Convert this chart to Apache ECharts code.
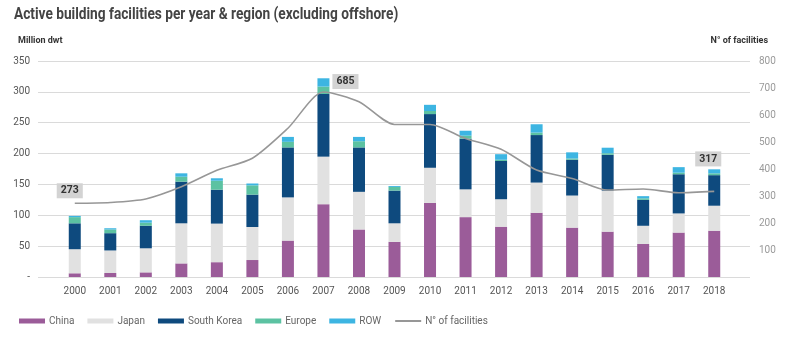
<!DOCTYPE html>
<html>
<head>
<meta charset="utf-8">
<script src="https://cdn.jsdelivr.net/npm/echarts@6/dist/echarts.min.js"></script>
<style>
  html, body { margin: 0; padding: 0; background: #fff; }
  #chart { width: 800px; height: 338px; }
</style>
</head>
<body>
<div id="chart"></div>
<script>
// Building capacity by region (million dwt) and number of active facilities
const years = ['2000','2001','2002','2003','2004','2005','2006','2007','2008','2009',
               '2010','2011','2012','2013','2014','2015','2016','2017','2018'];
const china      = [6, 6.5, 7.5, 22, 24, 27.5, 59, 118, 77, 57, 120, 97, 81.5, 104, 80, 73.5, 53.5, 72, 75];
const japan      = [39, 36.5, 39, 65, 62.5, 53.5, 70, 77, 61, 30, 57, 45, 44.5, 49, 52, 66.5, 29.5, 31, 40.5];
const southKorea = [42, 28, 36.5, 67.5, 55, 52.5, 81, 101.5, 72, 53, 87, 82, 62, 77, 58, 58, 42, 63.5, 49.5];
const europe     = [10, 6, 5, 8, 14.5, 15, 9, 12, 10, 6, 5, 5, 2, 4, 2, 2.5, 2.5, 2.5, 3];
const row        = [2, 2, 4, 5.5, 4, 3, 8, 13.5, 7, 1.5, 10, 8, 9, 13.5, 10, 9, 3.5, 9, 6.5];
const facilities = [273, 276, 289, 334, 395, 440, 551, 685, 649, 565, 565, 513, 473, 396, 365, 322, 326, 312, 317];
const dwtTicks   = [0, 50, 100, 150, 200, 250, 300, 350];
const countTicks = [0, 100, 200, 300, 400, 500, 600, 700, 800];

// Years that carry a value tag on the facilities line, with tag offsets
const tagged = { 0: [-5, 0], 7: [22, 2], 18: [-6, -20] };

const FONT = '"Roboto", "Noto Sans", sans-serif';
const TITLE = 'Active building facilities per year & region (excluding offshore)';

const dwtMin = dwtTicks[0], dwtMax = dwtTicks[dwtTicks.length - 1];
const cntMin = countTicks[0], cntMax = countTicks[countTicks.length - 1];

const barSeries = (name, values, color) => ({
  name, type: 'bar', stack: 'dwt', barWidth: 12,
  xAxisIndex: 0, yAxisIndex: 0,
  itemStyle: { color },
  emphasis: { disabled: true },
  data: values
});

const chart = echarts.init(document.getElementById('chart'), null, { renderer: 'canvas' });

chart.setOption({
  backgroundColor: '#ffffff',
  animation: false,
  textStyle: { fontFamily: FONT },
  // headline set in a slightly condensed cut
  graphic: [
    { type: 'text', x: 14, y: 7, scaleX: 0.855, silent: true,
      style: { text: TITLE, fontFamily: FONT, fontSize: 16, fontWeight: 'bold',
               fill: '#444', textVerticalAlign: 'top' } }
  ],
  title: [
    { text: 'Million dwt', left: 13, top: 31,
      textStyle: { fontFamily: FONT, fontSize: 9, fontWeight: 'bold', color: '#333' } },
    { text: 'N° of facilities', right: 27, top: 31,
      textStyle: { fontFamily: FONT, fontSize: 9, fontWeight: 'bold', color: '#333' } }
  ],
  legend: {
    left: 14, top: 311,
    itemWidth: 26, itemHeight: 5, itemGap: 13,
    textStyle: { fontFamily: FONT, fontSize: 10, color: '#666', padding: [0, 0, 0, -1] },
    data: [
      { name: 'China', icon: 'rect' },
      { name: 'Japan', icon: 'rect' },
      { name: 'South Korea', icon: 'rect' },
      { name: 'Europe', icon: 'rect' },
      { name: 'ROW', icon: 'rect' },
      { name: 'N° of facilities', itemStyle: { opacity: 0 } }
    ]
  },
  // grid 0 holds the marks, grid 1 carries the wider gridlines and tick labels
  grid: [
    { left: 57, right: 68, top: 61, bottom: 61 },
    { left: 38, right: 50, top: 61, bottom: 61 }
  ],
  xAxis: [
    { type: 'category', gridIndex: 0, data: years, boundaryGap: true,
      axisLine: { show: false }, axisTick: { show: false }, splitLine: { show: false },
      axisLabel: { fontFamily: FONT, fontSize: 10, color: '#555', margin: 9, interval: 0 } },
    { type: 'value', gridIndex: 1, show: false, min: 0, max: 1 }
  ],
  yAxis: [
    { type: 'value', gridIndex: 0, min: dwtMin, max: dwtMax, show: false },
    { type: 'value', gridIndex: 0, min: cntMin, max: cntMax, show: false },
    { type: 'value', gridIndex: 1, min: dwtMin, max: dwtMax, interval: 50,
      axisLine: { show: false }, axisTick: { show: false },
      splitLine: { lineStyle: { color: '#dadada', width: 1 } },
      axisLabel: { fontFamily: FONT, fontSize: 10, color: '#555', margin: 8,
                   formatter: v => v === 0 ? '-' : String(v) } },
    { type: 'value', gridIndex: 1, min: cntMin, max: cntMax, interval: 100, position: 'right',
      axisLine: { show: false }, axisTick: { show: false }, splitLine: { show: false },
      axisLabel: { fontFamily: FONT, fontSize: 10, color: '#9a9a9a', margin: 9,
                   formatter: v => v === 0 ? '' : String(v) } }
  ],
  series: [
    barSeries('China', china, '#9b5c99'),
    barSeries('Japan', japan, '#e1e1e1'),
    barSeries('South Korea', southKorea, '#0e4a7e'),
    barSeries('Europe', europe, '#5cc2a2'),
    barSeries('ROW', row, '#3db5e2'),
    {
      name: 'N° of facilities', type: 'line', xAxisIndex: 0, yAxisIndex: 1,
      smooth: 0.25, symbol: 'circle', symbolSize: 0.01, showSymbol: true,
      lineStyle: { color: '#979797', width: 1.6 },
      itemStyle: { color: '#979797' },
      emphasis: { disabled: true },
      z: 5,
      data: facilities.map((v, i) => {
        const item = { value: v };
        if (tagged[i]) {
          item.label = {
            show: true, position: 'top', distance: 5, offset: tagged[i],
            backgroundColor: '#d3d3d3', padding: [2, 4],
            fontFamily: FONT, fontSize: 10.5, fontWeight: 'bold', color: '#333'
          };
        }
        return item;
      })
    }
  ]
});
</script>
</body>
</html>
